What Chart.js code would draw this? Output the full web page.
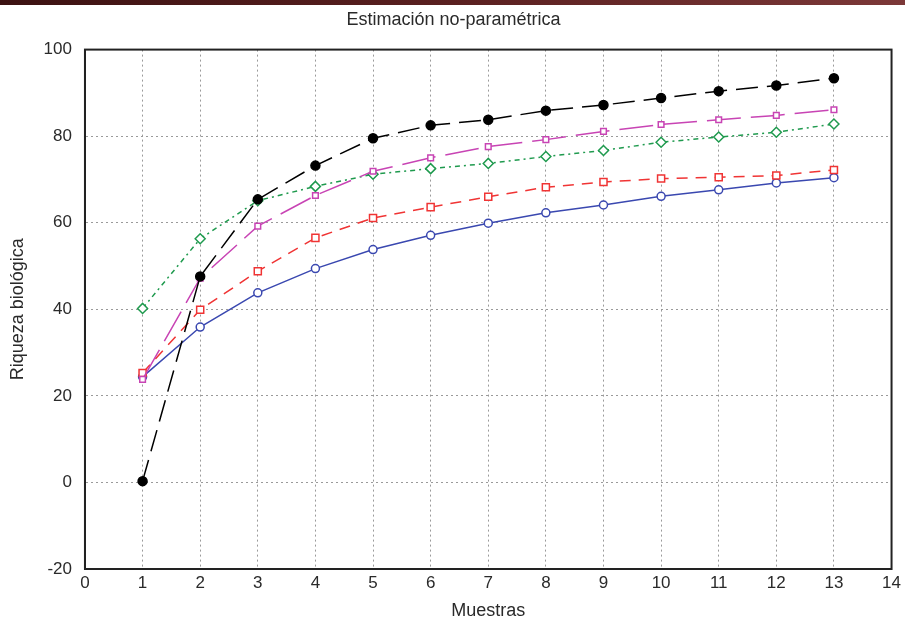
<!DOCTYPE html>
<html>
<head>
<meta charset="utf-8">
<script src="https://cdn.jsdelivr.net/npm/chart.js@4.4.1/dist/chart.umd.min.js"></script>
<style>
  html, body { margin: 0; padding: 0; background: #fff; }
  #wrap { position: relative; width: 905px; height: 624px; }
  #bar { position: absolute; left: 0; top: 0; width: 905px; height: 5px;
         background: linear-gradient(to right, #3c1212, #5a2020 50%, #7c3838); }
  canvas { position: absolute; left: 0; top: 0; }
</style>
</head>
<body>
<div id="wrap">
  <canvas id="chart" width="905" height="624"></canvas>
  <div id="bar"></div>
</div>
<script>
// Muestras (x) y estimaciones de riqueza
const muestras = [1, 2, 3, 4, 5, 6, 7, 8, 9, 10, 11, 12, 13];
const serieNegra = [0.3, 47.6, 65.4, 73.2, 79.5, 82.5, 83.8, 85.9, 87.2, 88.8, 90.4, 91.7, 93.4];
const serieMagenta = [23.8, 47.2, 59.2, 66.3, 71.9, 75.0, 77.6, 79.2, 81.1, 82.7, 83.8, 84.8, 86.1];
const serieVerde = [40.2, 56.3, 65.1, 68.4, 71.2, 72.5, 73.7, 75.3, 76.7, 78.6, 79.8, 80.9, 82.8];
const serieRoja = [25.3, 39.9, 48.8, 56.5, 61.1, 63.6, 66.0, 68.2, 69.4, 70.2, 70.5, 70.9, 72.2];
const serieAzul = [24.4, 35.9, 43.8, 49.4, 53.8, 57.1, 59.9, 62.3, 64.1, 66.1, 67.6, 69.2, 70.4];

const toPoints = (ys) => muestras.map((x, i) => ({ x: x, y: ys[i] }));

const textColor = "#2a2a2a";
const family = "'Liberation Sans', Arial, sans-serif";
const tickFont = { family: family, size: 17 };
const labelFont = { family: family, size: 18 };

// frame around the plot area
const frame = {
  id: "frame",
  afterDatasetsDraw(chart) {
    const { ctx, chartArea: a } = chart;
    ctx.save();
    ctx.strokeStyle = "#222";
    ctx.lineWidth = 2;
    ctx.strokeRect(a.left, a.top, a.right - a.left, a.bottom - a.top);
    ctx.restore();
  },
};

new Chart(document.getElementById("chart"), {
  type: "line",
  data: {
    datasets: [
      {
        data: toPoints(serieNegra),
        borderColor: "#000",
        borderWidth: 1.5,
        borderDash: [22, 9],
        pointStyle: "circle",
        pointRadius: 4.5,
        pointBackgroundColor: "#000",
        pointBorderColor: "#000",
      },
      {
        data: toPoints(serieMagenta),
        borderColor: "#c844b4",
        borderWidth: 1.5,
        borderDash: [34, 10],
        pointStyle: "rect",
        pointRadius: 4,
        pointBackgroundColor: "#fff",
        pointBorderColor: "#c844b4",
        pointBorderWidth: 1.5,
      },
      {
        data: toPoints(serieVerde),
        borderColor: "#1f9a4e",
        borderWidth: 1.5,
        borderDash: [5, 4, 2, 4],
        pointStyle: "rectRot",
        pointRadius: 5,
        pointBackgroundColor: "#fff",
        pointBorderColor: "#1f9a4e",
        pointBorderWidth: 1.5,
      },
      {
        data: toPoints(serieRoja),
        borderColor: "#f03434",
        borderWidth: 1.5,
        borderDash: [11, 8],
        pointStyle: "rect",
        pointRadius: 5,
        pointBackgroundColor: "#fff",
        pointBorderColor: "#f03434",
        pointBorderWidth: 1.5,
      },
      {
        data: toPoints(serieAzul),
        borderColor: "#3a48b0",
        borderWidth: 1.5,
        pointStyle: "circle",
        pointRadius: 4,
        pointBackgroundColor: "#fff",
        pointBorderColor: "#3a48b0",
        pointBorderWidth: 1.5,
      },
    ],
  },
  options: {
    responsive: false,
    animation: false,
    devicePixelRatio: 1,
    layout: { autoPadding: false, padding: { top: 4, right: 5, bottom: 2, left: 7 } },
    plugins: {
      legend: { display: false },
      tooltip: { enabled: false },
      title: {
        display: true,
        text: "Estimación no-paramétrica",
        color: textColor,
        font: { ...labelFont, weight: "normal" },
        padding: { top: 5, bottom: 19 },
      },
    },
    scales: {
      x: {
        type: "linear",
        min: 0,
        max: 14,
        ticks: { stepSize: 1, color: textColor, font: tickFont, padding: 4 },
        grid: { color: "#9a9a9a", drawTicks: false },
        border: { color: "#222", width: 2, dash: [2, 3] },
        title: { display: true, text: "Muestras", color: textColor, font: labelFont, padding: { top: 3, bottom: 0 } },
      },
      y: {
        min: -20,
        max: 100,
        ticks: { stepSize: 20, color: textColor, font: tickFont, padding: 13 },
        grid: { color: "#9a9a9a", drawTicks: false },
        border: { color: "#222", width: 2, dash: [2, 3] },
        title: { display: true, text: "Riqueza biológica", color: textColor, font: labelFont, padding: { top: 0, bottom: 2 } },
      },
    },
  },
  plugins: [frame],
});
</script>
</body>
</html>
